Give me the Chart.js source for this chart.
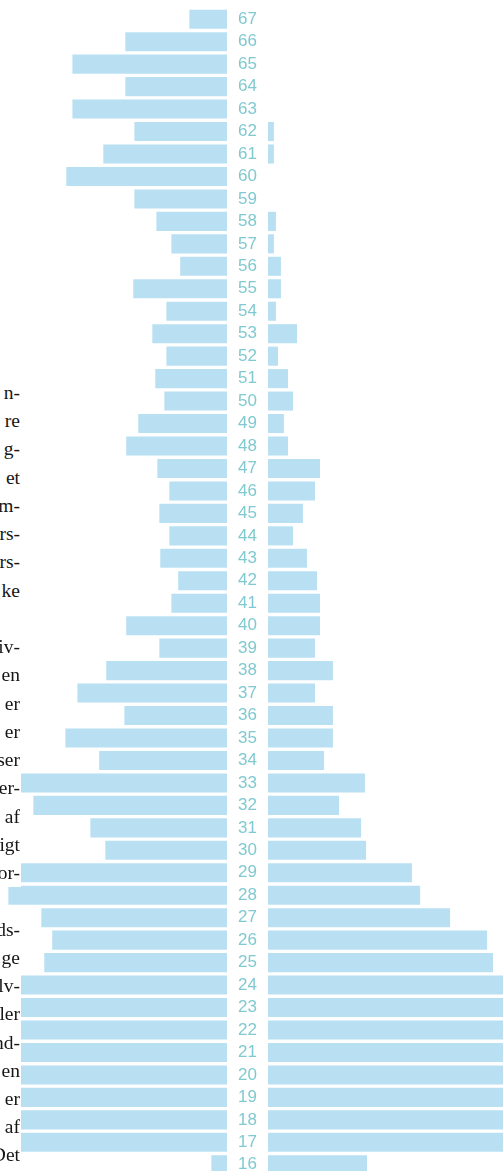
<!DOCTYPE html>
<html>
<head>
<meta charset="utf-8">
<script src="https://cdn.jsdelivr.net/npm/chart.js@4/dist/chart.umd.min.js"></script>
<style>
html,body{margin:0;padding:0;background:#fff;}
body{width:503px;height:1171px;overflow:hidden;position:relative;}
#L{position:absolute;left:0;top:7.5px;width:227px;height:1168px;}
#R{position:absolute;left:227px;top:7.5px;width:276px;height:1168px;}
.ln{position:absolute;left:0;width:21px;height:28.24px;background:#fff;overflow:hidden;
    font-family:"Liberation Serif",serif;font-size:19.5px;line-height:28.24px;color:#161616;}
.ln span{position:absolute;right:1px;top:0;white-space:nowrap;}
</style>
</head>
<body>
<div id="L"><canvas id="cL"></canvas></div>
<div id="R"><canvas id="cR"></canvas></div>
<div id="txt"></div>
<script>
// Age categories (top to bottom)
const ages = ["67","66","65","64","63","62","61","60","59","58","57","56","55","54","53","52","51","50",
  "49","48","47","46","45","44","43","42","41","40","39","38","37","36","35","34","33","32","31","30",
  "29","28","27","26","25","24","23","22","21","20","19","18","17","16"];

// Left-hand series (bars growing to the left)
const leftValues = [16.6,44.8,68.1,44.8,68.1,40.8,54.5,70.8,40.8,31.1,24.5,20.6,41.3,26.7,32.9,26.7,31.6,27.6,
  39.1,44.4,30.7,25.4,29.8,25.4,29.4,21.5,24.5,44.4,29.8,53.2,65.9,45.2,71.2,56.3,93,85.3,60.2,53.6,
  92,96.3,81.8,77.0,80.5,104,108,112,110,114,112,108,106,6.9];

// Right-hand series (bars growing to the right)
const rightValues = [0,0,0,0,0,2.6,2.6,0,0,3.5,2.6,5.7,5.7,3.5,12.8,4.4,8.8,11.0,
  7.0,8.8,22.9,20.7,15.4,11.0,17.2,21.6,22.9,22.9,20.7,28.6,20.7,28.6,28.6,24.7,42.7,31.3,41.0,43.2,
  63.4,67.0,80.2,96.5,99.1,108,112,116,118,120,118,115,112,43.6];

// Text fragments of the cut-off column on the left
const textLines = ["n-","re","g-","et","m-","rs-","rs-","ke","","iv-","en","er","er","ser","er-","af","igt",
  "or-","","ds-","ge","lv-","ler","nd-","en","er","af","Det"];

const barColor = "#b8e0f2";
const labelColor = "#80c9d0";

const common = {
  responsive:true, maintainAspectRatio:false, animation:false,
  layout:{padding:0},
  plugins:{legend:{display:false}, tooltip:{enabled:false}}
};

new Chart(document.getElementById("cL"), {
  type:"bar",
  data:{labels:ages, datasets:[{data:leftValues, backgroundColor:barColor, borderWidth:0,
        barPercentage:0.85, categoryPercentage:1, clip:0}]},
  options:Object.assign({}, common, {
    indexAxis:"y",
    scales:{
      x:{display:false, reverse:true, min:0, max:100},
      y:{display:false}
    }
  })
});

new Chart(document.getElementById("cR"), {
  type:"bar",
  data:{labels:ages, datasets:[{data:rightValues, backgroundColor:barColor, borderWidth:0,
        barPercentage:0.85, categoryPercentage:1, clip:0}]},
  options:Object.assign({}, common, {
    indexAxis:"y",
    scales:{
      x:{display:false, min:0, max:103.5},
      y:{position:"left",
         grid:{display:false, drawTicks:false, tickLength:0},
         border:{display:false},
         ticks:{color:labelColor, crossAlign:"center", padding:11, autoSkip:false,
                font:{family:"'Liberation Sans', Arial, sans-serif", size:17}},
         afterFit:function(s){ s.width = 41; s.paddingTop = 0; s.paddingBottom = 0; }
      }
    }
  })
});

// text column
const txt = document.getElementById("txt");
const firstBaseline = 399.5, lineGap = 28.24;
textLines.forEach(function(t,i){
  if(!t) return;
  const d = document.createElement("div");
  d.className = "ln";
  d.style.top = (firstBaseline + i*lineGap - 20.5) + "px";
  const s = document.createElement("span");
  s.textContent = t;
  d.appendChild(s);
  txt.appendChild(d);
});
</script>
</body>
</html>
